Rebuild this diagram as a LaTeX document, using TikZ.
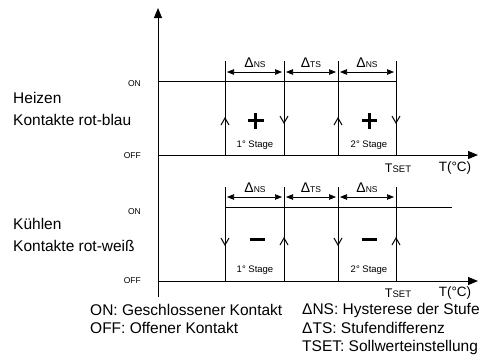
\documentclass[tikz,border=0pt]{standalone}
\usepackage{fontspec}
\setmainfont{Liberation Sans}
\usetikzlibrary{arrows.meta}
\begin{document}
\begin{tikzpicture}[x=1pt,y=-1pt,
  axis/.style={line width=1pt,-{Triangle[length=10pt,width=8pt]}},
  ln/.style={line width=0.9pt},
  dimar/.style={line width=0.7pt,{Triangle[length=7pt,width=5.5pt]}-{Triangle[length=7pt,width=5.5pt]}},
  chev/.style={line width=1pt},
  sgn/.style={line width=2.8pt},
  tiny/.style={font=\fontsize{8.5}{10}\selectfont,inner sep=0pt},
  stage/.style={font=\fontsize{9.5}{10}\selectfont,inner sep=0pt},
  big/.style={font=\fontsize{15.5}{18}\selectfont,inner sep=0pt,anchor=west},
  mid/.style={font=\fontsize{13.5}{16}\selectfont,inner sep=0pt}
]
\useasboundingbox (0,0) rectangle (493,360);
\newcommand{\dl}[1]{{\fontsize{14}{14}\selectfont Δ}{\fontsize{8.5}{10}\selectfont #1}}
\newcommand{\tset}{{\fontsize{12.5}{14}\selectfont T}{\fontsize{9.5}{10}\selectfont SET}}

% axes
\coordinate (ybot) at (158,297);
\coordinate (ytop) at (158,8);
\draw[axis] (ybot) -- (ytop);
\coordinate (h0) at (158,155);
\coordinate (hx) at (478,155);
\coordinate (k0) at (158,281);
\coordinate (kx) at (478,281);
\draw[axis] (h0) -- (hx);
\draw[axis] (k0) -- (kx);

% heating
\coordinate (hon0) at (158,81);
\coordinate (hon1) at (396,81);
\draw[ln] (hon0) -- (hon1);
\foreach \x/\n in {225/a,284/b,338/c,396/d}{
  \coordinate (hb\n) at (\x,155);
  \coordinate (ht\n) at (\x,61);
  \draw[ln] (hb\n) -- (ht\n);
}
% chevrons heating
\draw[chev] (221,125) -- (225,118) -- (229,125);
\draw[chev] (280,116) -- (284,123) -- (288,116);
\draw[chev] (334,125) -- (338,118) -- (342,125);
\draw[chev] (392,116) -- (396,123) -- (400,116);
\draw[sgn] (248,120.5) -- (263.5,120.5) (255.75,113) -- (255.75,128.5);
\draw[sgn] (361.5,120.5) -- (377,120.5) (369.25,113) -- (369.25,128.5);
\node[stage] (s1) at (255,145) {1° Stage};
\node[stage] (s2) at (369,145) {2° Stage};
% dimension heating
\coordinate (d1a) at (227,72); \coordinate (d1b) at (282,72);
\coordinate (d2a) at (286,72); \coordinate (d2b) at (336,72);
\coordinate (d3a) at (340,72); \coordinate (d3b) at (394,72);
\draw[dimar] (d1a) -- (d1b);
\draw[dimar] (d2a) -- (d2b);
\draw[dimar] (d3a) -- (d3b);
\node[inner sep=0pt] (hl1) at (255,63) {\dl{NS}};
\node[inner sep=0pt] (hl2) at (311,63) {\dl{TS}};
\node[inner sep=0pt] (hl3) at (367,63) {\dl{NS}};
\node[inner sep=0pt] (ht) at (398,168) {\tset};
\node[mid] (hT) at (455,168) {T(°C)};

% cooling
\coordinate (kon0) at (225,207);
\coordinate (kon1) at (452,207);
\draw[ln] (kon0) -- (kon1);
\foreach \x/\n in {225/a,284/b,338/c,396/d}{
  \coordinate (kb\n) at (\x,281);
  \coordinate (kt\n) at (\x,187);
  \draw[ln] (kb\n) -- (kt\n);
}
\draw[chev] (221,238) -- (225,245) -- (229,238);
\draw[chev] (280,245) -- (284,238) -- (288,245);
\draw[chev] (334,238) -- (338,245) -- (342,238);
\draw[chev] (392,245) -- (396,238) -- (400,245);
\draw[sgn] (250,239.5) -- (265,239.5);
\draw[sgn] (362,239.5) -- (377,239.5);
\node[stage] (s3) at (255,270) {1° Stage};
\node[stage] (s4) at (369,270) {2° Stage};
\coordinate (e1a) at (227,197); \coordinate (e1b) at (282,197);
\coordinate (e2a) at (286,197); \coordinate (e2b) at (336,197);
\coordinate (e3a) at (340,197); \coordinate (e3b) at (394,197);
\draw[dimar] (e1a) -- (e1b);
\draw[dimar] (e2a) -- (e2b);
\draw[dimar] (e3a) -- (e3b);
\node[inner sep=0pt] (kl1) at (255,188) {\dl{NS}};
\node[inner sep=0pt] (kl2) at (311,188) {\dl{TS}};
\node[inner sep=0pt] (kl3) at (367,188) {\dl{NS}};
\node[inner sep=0pt] (kt) at (398,293) {\tset};
\node[mid] (kT) at (455,293) {T(°C)};

% left labels
\node[tiny,anchor=east] (on1) at (141,84) {ON};
\node[tiny,anchor=east] (off1) at (141,156) {OFF};
\node[tiny,anchor=east] (on2) at (141,212) {ON};
\node[tiny,anchor=east] (off2) at (141,281) {OFF};
\node[big] (lh1) at (13,98) {Heizen};
\node[big] (lh2) at (13,120) {Kontakte rot-blau};
\node[big] (lk1) at (13,224) {Kühlen};
\node[big] (lk2) at (13,246) {Kontakte rot-weiß};

% legend
\node[big] (g1) at (90,310) {ON: Geschlossener Kontakt};
\node[big] (g2) at (90,328) {OFF: Offener Kontakt};
\node[big] (g3) at (302,310) {ΔNS: Hysterese der Stufe};
\node[big] (g4) at (302,328) {ΔTS: Stufendifferenz};
\node[big] (g5) at (302,347) {TSET: Sollwerteinstellung};
\end{tikzpicture}
\end{document}
